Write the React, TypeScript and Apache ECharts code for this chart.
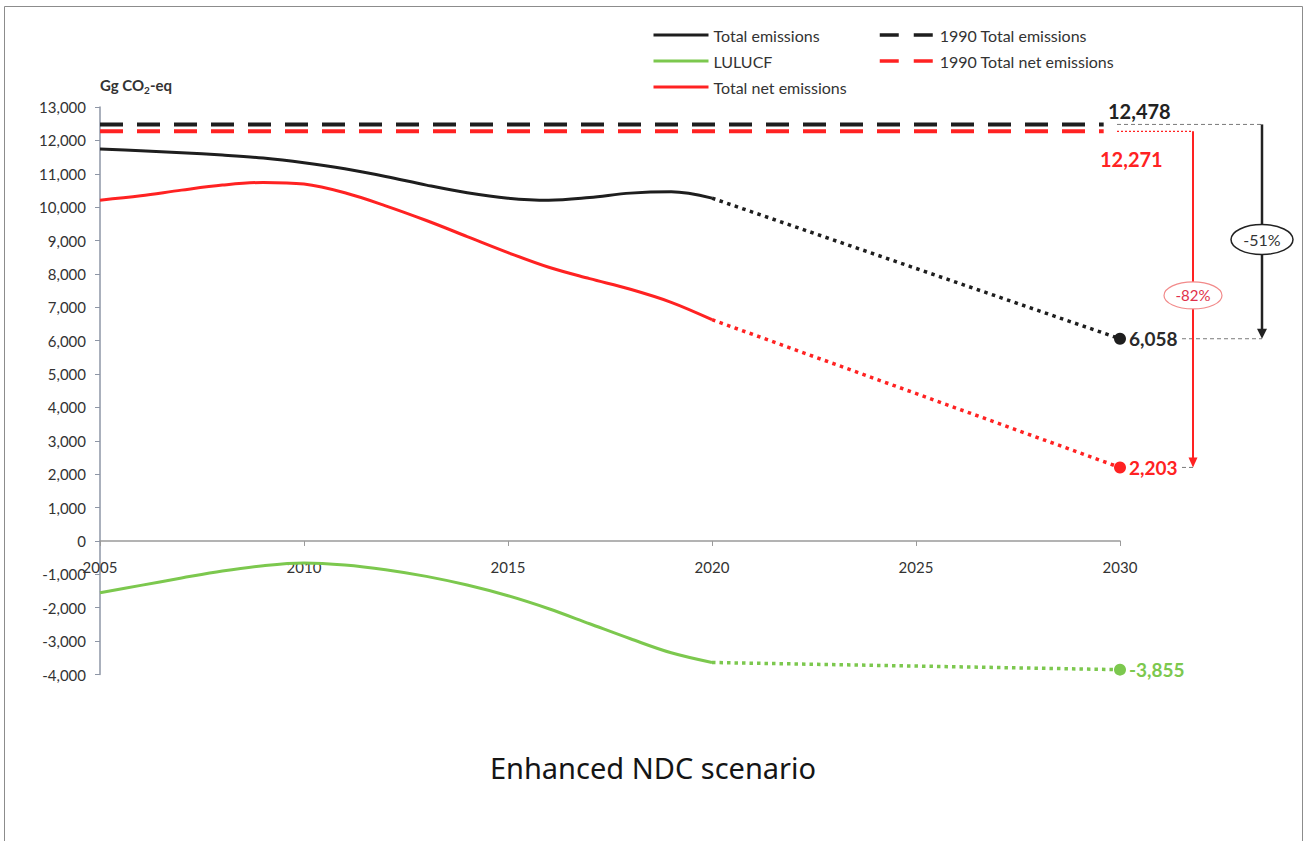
import React, { useEffect, useRef } from 'react';
import * as echarts from 'echarts';

// ---------- data ----------
const historicYears = [2005, 2006, 2007, 2008, 2009, 2010, 2011, 2012, 2013, 2014, 2015, 2016, 2017, 2018, 2019, 2020];
const totalEmissions = [11740, 11690, 11630, 11560, 11470, 11330, 11150, 10920, 10660, 10430, 10270, 10210, 10290, 10420, 10460, 10270];
const netEmissions = [10210, 10340, 10510, 10660, 10740, 10690, 10430, 10040, 9600, 9120, 8640, 8200, 7860, 7540, 7150, 6630];
const lulucf = [-1550, -1330, -1110, -900, -740, -660, -720, -860, -1060, -1320, -1640, -2030, -2480, -2930, -3350, -3640];

const projectionYears = [2020, 2030];
const totalProjection = [10270, 6058];
const netProjection = [6630, 2203];
const lulucfProjection = [-3640, -3855];

const baselineYears = [2005, 2029.6];
const base1990Total = 12478;
const base1990Net = 12271;
const reductionTotalLabel = '-51%';
const reductionNetLabel = '-82%';

const seriesNames = ['Total emissions', 'LULUCF', 'Total net emissions', '1990 Total emissions', '1990 Total net emissions'];
const titleText = 'Enhanced NDC scenario';

// ---------- helpers ----------
const fmt = (v: number) => v.toLocaleString('en-US');
const pairs = (xs: number[], ys: number[]) => xs.map((x, i) => [x, ys[i]]);

const BLACK = '#1e1e1e';
const RED = '#ff2222';
const GREEN = '#7cc84e';
const FONT = 'Lato, "Open Sans", sans-serif';

export default function App() {
  const ref = useRef<HTMLDivElement>(null);

  useEffect(() => {
    if (!ref.current) return;
    const chart = echarts.init(ref.current, undefined, { renderer: 'svg' });

    const endLabel = (color: string) => ({
      show: true,
      position: 'right',
      distance: 3,
      formatter: (p: any) => fmt(p.value[1]),
      fontSize: 19,
      fontWeight: 'bold',
      fontFamily: FONT,
      color,
      opacity: 1,
    });

    const legendBase = {
      orient: 'vertical',
      top: 22,
      itemWidth: 55,
      itemHeight: 14,
      itemGap: 10,
      itemStyle: { opacity: 0 },
      lineStyle: { width: 3 },
      textStyle: { fontSize: 16, color: '#333', fontFamily: FONT },
    };

    const option: any = {
      animation: false,
      backgroundColor: '#ffffff',
      textStyle: { fontFamily: FONT },
      title: {
        text: titleText,
        left: 'center',
        top: 748,
        textStyle: { fontFamily: '"Noto Sans", sans-serif', fontSize: 29, fontWeight: 'normal', color: '#151515' },
      },
      legend: [
        {
          ...legendBase,
          left: 647,
          data: seriesNames.slice(0, 3).map((n) => ({ name: n })),
        },
        {
          ...legendBase,
          left: 873,
          data: seriesNames.slice(3).map((n) => ({ name: n, lineStyle: { type: [19, 15], width: 3.5 } })),
        },
      ],
      grid: { left: 100, right: 186, top: 107, bottom: 166.5 },
      xAxis: {
        type: 'value',
        min: 2005,
        max: 2030,
        interval: 5,
        axisLine: { onZero: true, lineStyle: { color: '#9a9a9a', width: 1.5 } },
        axisTick: { show: true, length: 5, lineStyle: { color: '#9a9a9a' } },
        splitLine: { show: false },
        axisLabel: { formatter: (v: number) => String(v), fontSize: 15, color: '#333', margin: -115, fontFamily: FONT },
      },
      yAxis: {
        type: 'value',
        min: -4000,
        max: 13000,
        interval: 1000,
        name: '{a|Gg CO}{b|2}{a|-eq}',
        nameLocation: 'end',
        nameGap: 12,
        nameTextStyle: {
          align: 'left',
          rich: {
            a: { fontSize: 15, fontWeight: 'bold', color: '#333', fontFamily: FONT, lineHeight: 20 },
            b: { fontSize: 10, fontWeight: 'bold', color: '#333', fontFamily: FONT, lineHeight: 10, verticalAlign: 'bottom' },
          },
        },
        axisLine: { show: true, lineStyle: { color: '#8e96a6', width: 1.5 } },
        axisTick: { show: true, length: 5, lineStyle: { color: '#8e96a6' } },
        splitLine: { show: false },
        axisLabel: { formatter: (v: number) => fmt(v), fontSize: 15, color: '#333', margin: 14, fontFamily: FONT },
      },
      series: [
        {
          name: seriesNames[0], type: 'line', data: pairs(historicYears, totalEmissions), smooth: 0.35,
          symbol: 'none', lineStyle: { color: BLACK, width: 3 }, itemStyle: { color: BLACK }, z: 3,
        },
        {
          name: seriesNames[1], type: 'line', data: pairs(historicYears, lulucf), smooth: 0.35,
          symbol: 'none', lineStyle: { color: GREEN, width: 3 }, itemStyle: { color: GREEN }, z: 3,
        },
        {
          name: seriesNames[2], type: 'line', data: pairs(historicYears, netEmissions), smooth: 0.35,
          symbol: 'none', lineStyle: { color: RED, width: 3 }, itemStyle: { color: RED }, z: 3,
        },
        {
          name: seriesNames[3], type: 'line', data: pairs(baselineYears, [base1990Total, base1990Total]),
          symbol: 'none', lineStyle: { color: BLACK, width: 4, type: [23, 14] }, itemStyle: { color: BLACK }, z: 2,
        },
        {
          name: seriesNames[4], type: 'line', data: pairs(baselineYears, [base1990Net, base1990Net]),
          symbol: 'none', lineStyle: { color: RED, width: 4, type: [23, 14] }, itemStyle: { color: RED }, z: 2,
        },
        {
          name: 'Total projection', type: 'line', data: pairs(projectionYears, totalProjection),
          symbol: 'none', lineStyle: { color: BLACK, width: 3.5, type: [3.5, 4.5] }, z: 3,
        },
        {
          name: 'LULUCF projection', type: 'line', data: pairs(projectionYears, lulucfProjection),
          symbol: 'none', lineStyle: { color: GREEN, width: 3.5, type: [3.5, 4] }, z: 3,
        },
        {
          name: 'Net projection', type: 'line', data: pairs(projectionYears, netProjection),
          symbol: 'none', lineStyle: { color: RED, width: 3.5, type: [3.5, 4.5] }, z: 3,
        },
        {
          name: 'Total 2030', type: 'scatter', data: [[projectionYears[1], totalProjection[1]]],
          symbolSize: 12, itemStyle: { color: BLACK, opacity: 1 }, label: endLabel('#2a2a2a'), z: 4,
        },
        {
          name: 'Net 2030', type: 'scatter', data: [[projectionYears[1], netProjection[1]]],
          symbolSize: 12, itemStyle: { color: RED, opacity: 1 }, label: endLabel(RED), z: 4,
        },
        {
          name: 'LULUCF 2030', type: 'scatter', data: [[projectionYears[1], lulucfProjection[1]]],
          symbolSize: 12, itemStyle: { color: GREEN, opacity: 1 }, label: endLabel(GREEN), z: 4,
        },
      ],
    };

    chart.setOption(option);

    // ---------- annotations placed through the axis scales ----------
    const yOf = (v: number) => chart.convertToPixel({ yAxisIndex: 0 } as any, v) as number;
    const xOf = (v: number) => chart.convertToPixel({ xAxisIndex: 0 } as any, v) as number;
    const x30 = xOf(projectionYears[1]);
    const yT = yOf(base1990Total);
    const yN = yOf(base1990Net);
    const yT30 = yOf(totalProjection[1]);
    const yN30 = yOf(netProjection[1]);
    const xRedArrow = x30 + 73;
    const xBlackArrow = x30 + 142;
    const labelEnd = x30 + 62;

    const graphic: any[] = [
      { type: 'rect', silent: true, shape: { x: 4.5, y: 6.5, width: 1298, height: 900 }, style: { fill: 'none', stroke: '#8c8c8c', lineWidth: 1 } },
      // thin guides from 1990 levels
      { type: 'line', shape: { x1: x30 - 3, y1: yT, x2: xBlackArrow, y2: yT }, style: { stroke: '#7a7a7a', lineWidth: 1, lineDash: [4, 3] } },
      { type: 'line', shape: { x1: x30 - 3, y1: yN, x2: xRedArrow, y2: yN }, style: { stroke: RED, lineWidth: 1.2, lineDash: [2, 2] } },
      // guides from 2030 labels
      { type: 'line', shape: { x1: labelEnd, y1: yT30, x2: xBlackArrow, y2: yT30 }, style: { stroke: '#7a7a7a', lineWidth: 1, lineDash: [4, 3] } },
      { type: 'line', shape: { x1: labelEnd, y1: yN30, x2: xRedArrow, y2: yN30 }, style: { stroke: '#7a7a7a', lineWidth: 1, lineDash: [4, 3] } },
      // arrows
      { type: 'line', shape: { x1: xBlackArrow, y1: yT, x2: xBlackArrow, y2: yT30 - 8 }, style: { stroke: '#222', lineWidth: 2.5 } },
      { type: 'polygon', shape: { points: [[xBlackArrow - 5, yT30 - 10], [xBlackArrow + 5, yT30 - 10], [xBlackArrow, yT30]] }, style: { fill: '#222' } },
      { type: 'line', shape: { x1: xRedArrow, y1: yN, x2: xRedArrow, y2: yN30 - 8 }, style: { stroke: RED, lineWidth: 2 } },
      { type: 'polygon', shape: { points: [[xRedArrow - 4.5, yN30 - 10], [xRedArrow + 4.5, yN30 - 10], [xRedArrow, yN30]] }, style: { fill: RED } },
      // percentage ellipses
      { type: 'ellipse', shape: { cx: xBlackArrow, cy: (yT + yT30) / 2 + 8, rx: 31, ry: 15 }, style: { fill: '#fff', stroke: '#222', lineWidth: 1.5 }, z: 10 },
      { type: 'text', x: xBlackArrow, y: (yT + yT30) / 2 + 8, style: { text: reductionTotalLabel, fill: '#333', fontSize: 16, fontFamily: FONT, align: 'center', verticalAlign: 'middle' }, z: 11 },
      { type: 'ellipse', shape: { cx: xRedArrow, cy: (yN + yN30) / 2 - 4, rx: 29, ry: 13.5 }, style: { fill: '#fff', stroke: '#f28a8a', lineWidth: 1.2 }, z: 10 },
      { type: 'text', x: xRedArrow, y: (yN + yN30) / 2 - 4, style: { text: reductionNetLabel, fill: '#e0304a', fontSize: 15, fontFamily: FONT, align: 'center', verticalAlign: 'middle' }, z: 11 },
      // 1990 values
      { type: 'text', x: x30 - 12, y: yT - 13, style: { text: fmt(base1990Total), fill: '#222', fontSize: 20, fontWeight: 'bold', fontFamily: FONT, align: 'left', verticalAlign: 'middle' } },
      { type: 'text', x: x30 - 20, y: yN + 28, style: { text: fmt(base1990Net), fill: RED, fontSize: 20, fontWeight: 'bold', fontFamily: FONT, align: 'left', verticalAlign: 'middle' } },
    ];

    chart.setOption({ graphic });

    return () => chart.dispose();
  }, []);

  return <div ref={ref} style={{ position: 'absolute', left: 0, top: 0, width: 1306, height: 841 }} />;
}
